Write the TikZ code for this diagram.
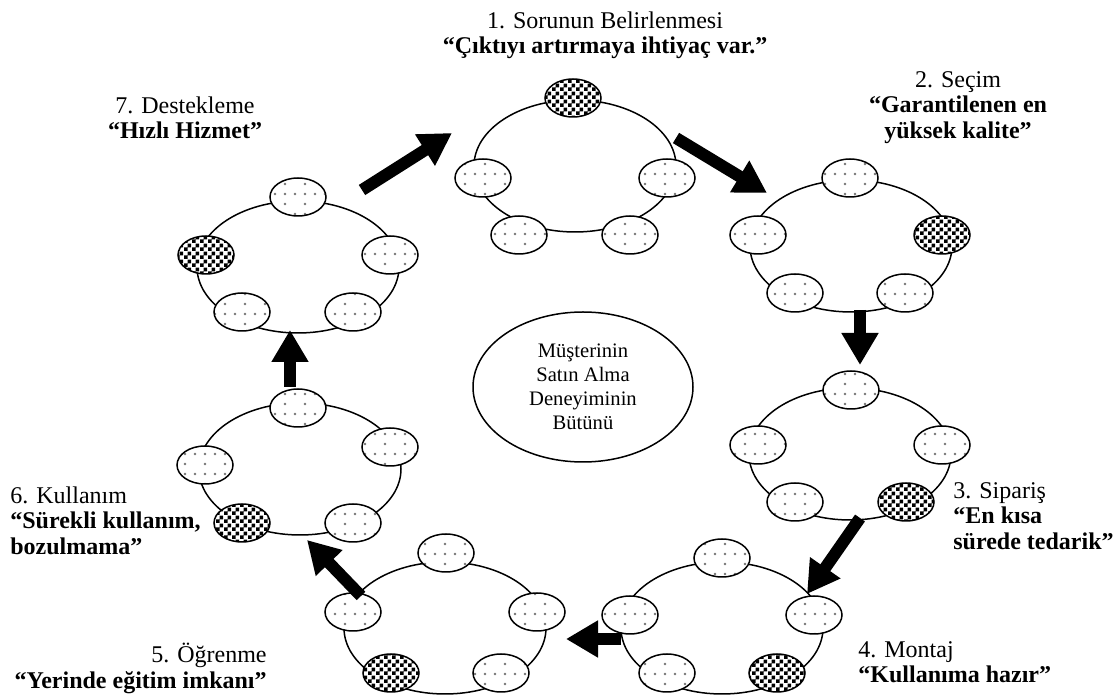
\documentclass[tikz,border=0pt]{standalone}
\usepackage{fontspec}
\setmainfont{Liberation Serif}
\usetikzlibrary{shapes.geometric,patterns,arrows.meta}

% sparse grey dots and a fine checker board for the small bubbles
\pgfdeclarepatternformonly{sparsedots}{\pgfqpoint{-1pt}{-1pt}}{\pgfqpoint{11pt}{11pt}}{\pgfqpoint{10pt}{10pt}}{
  \pgfpathcircle{\pgfqpoint{2.5pt}{2.5pt}}{0.65pt}
  \pgfpathcircle{\pgfqpoint{7.5pt}{2.5pt}}{0.65pt}
  \pgfpathcircle{\pgfqpoint{2.5pt}{7.5pt}}{0.65pt}
  \pgfusepath{fill}
}
\pgfdeclarepatternformonly{checker}{\pgfqpoint{0pt}{0pt}}{\pgfqpoint{4pt}{4pt}}{\pgfqpoint{4pt}{4pt}}{
  \pgfpathrectangle{\pgfqpoint{0pt}{0pt}}{\pgfqpoint{2pt}{2pt}}
  \pgfpathrectangle{\pgfqpoint{2pt}{2pt}}{\pgfqpoint{2pt}{2pt}}
  \pgfusepath{fill}
}

\begin{document}
\begin{tikzpicture}[x=0.5pt,y=-0.5pt]
	\newcommand{\ringw}{101pt} % size of the big rings
	\newcommand{\ringh}{66pt}
	\newcommand{\bubw}{28pt} % size of the small bubbles
	\newcommand{\bubh}{19pt}

	% styles
	\tikzset{
		ring/.style={
			ellipse, draw, line width=0.75pt,
			minimum width=\ringw, minimum height=\ringh, inner sep=0pt
			},
		dotbub/.style={
			ellipse, draw, line width=0.75pt,
			minimum width=\bubw, minimum height=\bubh, inner sep=0pt,
			preaction={fill=white}, pattern=sparsedots, pattern color=black!55
			},
		chkbub/.style={
			dotbub, pattern=checker, pattern color=black
			},
		hub/.style={
			ellipse, draw, line width=0.75pt,
			minimum width=110pt, minimum height=75pt, inner sep=0pt,
			align=center, font=\fontsize{10.3}{12}\selectfont
			},
		bigarrow/.style={
			line width=6pt, -{Triangle[length=16pt,width=17.5pt]}
			},
		lbl/.style={
			inner sep=0pt, font=\fontsize{12}{12.8}\selectfont
			}
	}
	\useasboundingbox (0,0) rectangle (1120,699);

	% centre
	\node[hub] (whole) at (583,387) {Müşterinin\\Satın Alma\\Deneyiminin\\Bütünü};

	% rings
	\node[ring] (r1) at (575,166) {};
	\node[ring] (r2) at (851,246) {};
	\node[ring] (r3) at (850,454) {};
	\node[ring] (r4) at (722,628) {};
	\node[ring] (r5) at (445,628) {};
	\node[ring] (r6) at (300,469) {};
	\node[ring] (r7) at (298,267) {};

	% bubbles of ring 1
	\node[chkbub] (r1a) at (573,98) {};
	\node[dotbub] (r1b) at (667,178) {};
	\node[dotbub] (r1c) at (630,235) {};
	\node[dotbub] (r1d) at (519,235) {};
	\node[dotbub] (r1e) at (483,178) {};
	% bubbles of ring 2
	\node[dotbub] (r2a) at (850,178) {};
	\node[chkbub] (r2b) at (942,235) {};
	\node[dotbub] (r2c) at (905,293) {};
	\node[dotbub] (r2d) at (795,293) {};
	\node[dotbub] (r2e) at (758,235) {};
	% bubbles of ring 3
	\node[dotbub] (r3a) at (851,390) {};
	\node[dotbub] (r3b) at (942,445) {};
	\node[chkbub] (r3c) at (906,502) {};
	\node[dotbub] (r3d) at (795,502) {};
	\node[dotbub] (r3e) at (758,445) {};
	% bubbles of ring 4
	\node[dotbub] (r4a) at (722,558) {};
	\node[dotbub] (r4b) at (814,615) {};
	\node[chkbub] (r4c) at (777,673) {};
	\node[dotbub] (r4d) at (667,673) {};
	\node[dotbub] (r4e) at (630,615) {};
	% bubbles of ring 5
	\node[dotbub] (r5a) at (446,553) {};
	\node[dotbub] (r5b) at (537,612) {};
	\node[dotbub] (r5c) at (501,673) {};
	\node[chkbub] (r5d) at (391,673) {};
	\node[dotbub] (r5e) at (353,612) {};
	% bubbles of ring 6
	\node[dotbub] (r6a) at (298,408) {};
	\node[dotbub] (r6b) at (390,447) {};
	\node[dotbub] (r6c) at (353,523) {};
	\node[chkbub] (r6d) at (242,523) {};
	\node[dotbub] (r6e) at (205,465) {};
	% bubbles of ring 7
	\node[dotbub] (r7a) at (298,197) {};
	\node[dotbub] (r7b) at (390,255) {};
	\node[dotbub] (r7c) at (353,312) {};
	\node[dotbub] (r7d) at (242,312) {};
	\node[chkbub] (r7e) at (206,255) {};

	% arrows
	\coordinate (s71) at (362,190); \coordinate (e71) at (452,133);
	\coordinate (s12) at (676,138); \coordinate (e12) at (767,193);
	\coordinate (s23) at (860,310); \coordinate (e23) at (860,365);
	\coordinate (s34) at (860,518); \coordinate (e34) at (807,594);
	\coordinate (s45) at (621,639); \coordinate (e45) at (566,639);
	\coordinate (s56) at (361,596); \coordinate (e56) at (307,540);
	\coordinate (s67) at (290,387); \coordinate (e67) at (290,330);
	\draw[bigarrow] (s71) -- (e71);
	\draw[bigarrow] (s12) -- (e12);
	\draw[bigarrow] (s23) -- (e23);
	\draw[bigarrow] (s34) -- (e34);
	\draw[bigarrow] (s45) -- (e45);
	\draw[bigarrow] (s56) -- (e56);
	\draw[bigarrow] (s67) -- (e67);

	% labels
	\node[lbl, anchor=north, align=center] (l1) at (605,11) {1. Sorunun Belirlenmesi\\\textbf{“Çıktıyı artırmaya ihtiyaç var.”}};
	\node[lbl, anchor=north, align=center] (l2) at (958,71) {2. Seçim\\\textbf{“Garantilenen en}\\\textbf{yüksek kalite”}};
	\node[lbl, anchor=north west, align=left] (l3) at (953,482) {3. Sipariş\\\textbf{“En kısa}\\\textbf{sürede tedarik”}};
	\node[lbl, anchor=north west, align=left] (l4) at (858,641) {4. Montaj\\\textbf{“Kullanıma hazır”}};
	\node[lbl, anchor=north east, align=right] (l5) at (267,643) {5. Öğrenme\\\textbf{“Yerinde eğitim imkanı”}};
	\node[lbl, anchor=north west, align=left] (l6) at (10,486) {6. Kullanım\\\textbf{“Sürekli kullanım,}\\\textbf{bozulmama”}};
	\node[lbl, anchor=north, align=center] (l7) at (185,96) {7. Destekleme\\\textbf{“Hızlı Hizmet”}};
\end{tikzpicture}
\end{document}
